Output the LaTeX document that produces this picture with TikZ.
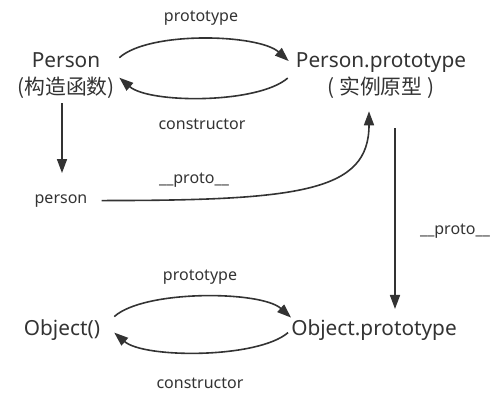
\documentclass[tikz,border=0pt]{standalone}
\usepackage{fontspec}
\setmainfont{Noto Sans}
\newfontfamily\cjk{Noto Sans CJK SC}
\usetikzlibrary{positioning,arrows.meta,calc}
\definecolor{protoink}{HTML}{333333}

\begin{document}
\begin{tikzpicture}[x=1pt, y=1pt,
    big/.style={anchor=base, inner sep=0pt, text=protoink, font=\fontsize{20.8}{22}\selectfont},
    small/.style={anchor=base, inner sep=0pt, text=protoink, font=\fontsize{16}{18}\selectfont},
    link/.style={protoink, line width=1.6pt, -{Triangle[length=14pt,width=10pt]}}]
    \useasboundingbox (0,0) rectangle (501,-404);
    % upper pair
    \node[big] (person) at (66,-67) {Person};
    \node[big] (personzh) at (66,-95) {\cjk (构造函数)};
    \node[big] (pproto) at (381,-67) {Person.prototype};
    \node[big] (pprotozh) at (381,-95) {\cjk ( 实例原型 )};
    \node[small] (protoa) at (201,-22) {prototype};
    \node[small] (ctora) at (202,-129) {constructor};
    \draw[link] ($(person.east)+(19,2)$) .. controls +(30,27) and +(-30,27) .. ($(pproto.west)+(-7,1)$);
    \draw[link] ($(pproto.west)+(-8,-16)$) .. controls +(-30,-26) and +(30,-26) .. ($(person.east)+(19,-18)$);
    % instance
    \node[small] (inst) at (61,-203) {person};
    \node[small] (protob) at (194,-183) {\_\_proto\_\_};
    \draw[link] ($(personzh.south)+(-4,-4)$) -- ($(inst.north)+(1,21)$);
    \draw[link] ($(inst.east)+(14,0)$) .. controls +(200,0) and +(0,-80) .. ($(pprotozh.south)+(-12,-12)$);
    % Object pair
    \node[big] (obj) at (62,-335) {Object()};
    \node[big] (oproto) at (374,-335) {Object.prototype};
    \node[small] (protoc) at (200,-280) {prototype};
    \node[small] (ctorb) at (200,-388) {constructor};
    \node[small] (protod) at (455,-234) {\_\_proto\_\_};
    \draw[link] ($(pprotozh.south)+(14,-29)$) -- ($(oproto.north)+(21,10)$);
    \draw[link] ($(obj.east)+(14,13)$) .. controls +(30,27) and +(-30,27) .. ($(oproto.west)+(0,12)$);
    \draw[link] ($(oproto.west)+(-3,-3)$) .. controls +(-30,-26) and +(30,-26) .. ($(obj.east)+(14,-3)$);
\end{tikzpicture}
\end{document}
